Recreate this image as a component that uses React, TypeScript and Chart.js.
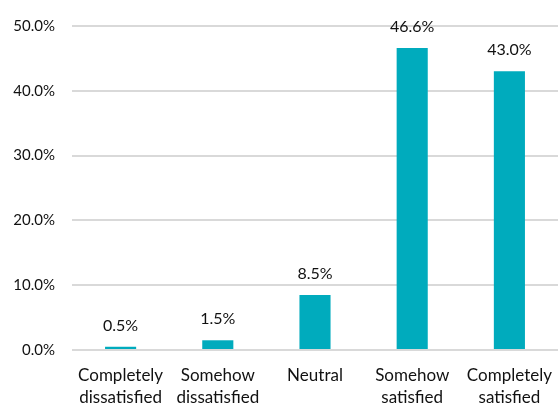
import React, { useEffect, useRef } from "react";
import { Chart, registerables } from "chart.js";

Chart.register(...registerables);

const categories: string[][] = [
  ["Completely", "dissatisfied"],
  ["Somehow", "dissatisfied"],
  ["Neutral"],
  ["Somehow", "satisfied"],
  ["Completely", "satisfied"],
];
const values: number[] = [0.5, 1.5, 8.5, 46.6, 43.0];
const yTicks: number[] = [0, 10, 20, 30, 40, 50];

const FONT = "Lato, 'DejaVu Sans', sans-serif";

const labelPlugin = {
  id: "barLabels",
  afterDatasetsDraw(chart: any) {
    const ctx = chart.ctx;
    const meta = chart.getDatasetMeta(0);
    ctx.save();
    ctx.font = `16px ${FONT}`;
    ctx.fillStyle = "#111";
    ctx.textAlign = "center";
    ctx.textBaseline = "alphabetic";
    meta.data.forEach((bar: any, i: number) => {
      ctx.fillText(values[i].toFixed(1) + "%", bar.x, bar.y - 16);
    });
    ctx.restore();
  },
};

export default function App() {
  const ref = useRef<HTMLCanvasElement | null>(null);
  useEffect(() => {
    if (!ref.current) return;
    const chart = new Chart(ref.current, {
      type: "bar",
      data: {
        labels: categories,
        datasets: [
          {
            data: values,
            backgroundColor: "#00ABBD",
            categoryPercentage: 1,
            barPercentage: 0.32,
          },
        ],
      },
      options: {
        animation: false,
        responsive: false,
        maintainAspectRatio: false,
        layout: { padding: { top: 20, right: 0, left: 0, bottom: 0 } },
        plugins: { legend: { display: false }, tooltip: { enabled: false } },
        scales: {
          x: {
            grid: { display: false, drawTicks: false },
            border: { display: false },
            afterFit: (axis: any) => {
              axis.height = 53;
              axis.paddingLeft = 0;
              axis.paddingRight = 0;
            },
            ticks: {
              color: "#111",
              font: { family: FONT, size: 17, lineHeight: 1.28 },
              padding: 15,
              maxRotation: 0,
              autoSkip: false,
            },
          },
          y: {
            min: 0,
            max: 50,
            afterBuildTicks: (axis: any) => {
              axis.ticks = yTicks.map((v) => ({ value: v }));
            },
            afterFit: (axis: any) => {
              axis.width = 72;
            },
            grid: { color: "#d9d9d9", lineWidth: 2, drawTicks: false },
            border: { display: false },
            ticks: {
              color: "#111",
              font: { family: FONT, size: 15 },
              padding: 17,
              callback: (v: any) => Number(v).toFixed(1) + "%",
            },
          },
        },
      },
      plugins: [labelPlugin],
    });
    return () => chart.destroy();
  }, []);
  return (
    <div style={{ position: "fixed", left: 0, top: 0, width: 558, height: 403, background: "#fff" }}>
      <canvas ref={ref} width={558} height={403} style={{ width: 558, height: 403 }} />
    </div>
  );
}
